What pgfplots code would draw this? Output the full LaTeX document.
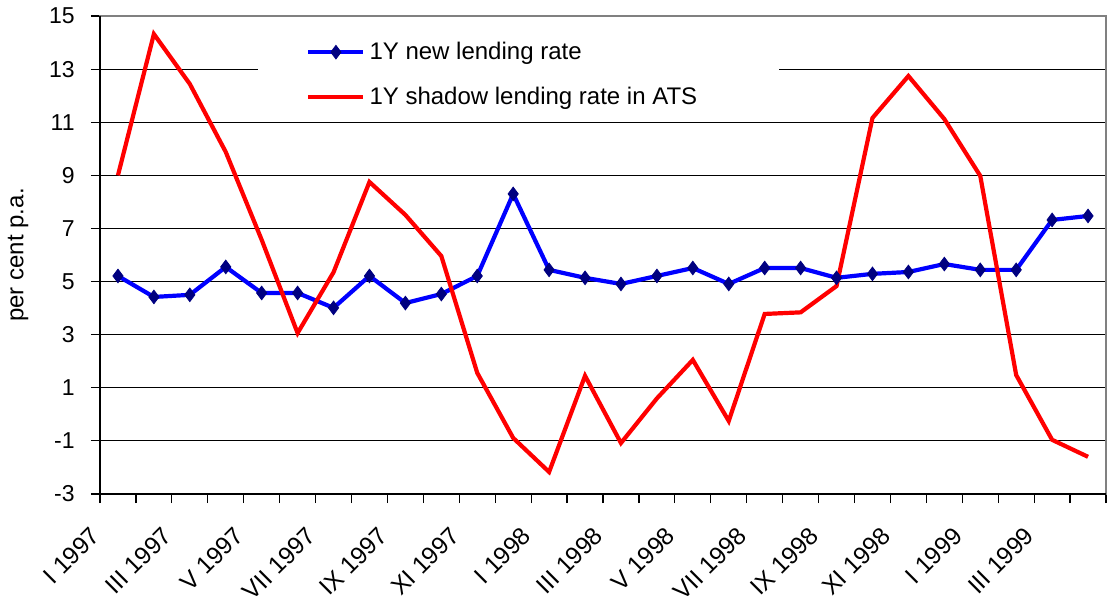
\documentclass[border=0pt]{standalone}
\usepackage{fontspec}
\setmainfont{Liberation Sans}
\usepackage{graphicx}
\usepackage{pgfplots}
\pgfplotsset{compat=1.18}
\definecolor{navy}{RGB}{0,0,128}
\definecolor{frgray}{RGB}{128,128,128}
\newcommand{\rl}[1]{\rotatebox{45}{#1}}
\begin{document}
\fontsize{12pt}{14pt}\selectfont
\begin{tikzpicture}
\begin{axis}[
  name=ax,
  scale only axis,
  width=503pt, height=239pt,
  xmin=0, xmax=28,
  ymin=-3, ymax=15,
  ytick={-3,-1,1,3,5,7,9,11,13,15},
  xtick={0,1,...,28},
  xticklabels={{\rl{I 1997}},{},{\rl{III 1997}},{},{\rl{V 1997}},{},{\rl{VII 1997}},{},{\rl{IX 1997}},{},{\rl{XI 1997}},{},{\rl{I 1998}},{},{\rl{III 1998}},{},{\rl{V 1998}},{},{\rl{VII 1998}},{},{\rl{IX 1998}},{},{\rl{XI 1998}},{},{\rl{I 1999}},{},{\rl{III 1999}},{},{}},
  /pgf/number format/assume math mode=true,
  tick label style={black},
  yticklabel style={font=\fontsize{11.5pt}{14pt}\selectfont},
  yticklabel shift=4pt,
  xticklabel style={anchor=north east, inner sep=0pt, xshift=1pt, font=\fontsize{12.2pt}{14pt}\selectfont},
  xticklabel shift=11pt,
  tick pos=left,
  tick align=outside,
  major tick length=4.5pt,
  tick style={black, line width=0.6pt},
  ymajorgrids,
  major grid style={black, line width=0.5pt},
  axis line style={frgray, line width=1pt},
  legend style={draw=none, fill=white, at={(rel axis cs:0.157,0.968)}, anchor=north west,
    inner xsep=24pt, inner ysep=3pt, row sep=8pt,
    font=\fontsize{12pt}{14pt}\selectfont},
  legend cell align=left,
  legend image code/.code={\draw[mark repeat=2,mark phase=2,#1] plot coordinates {(0pt,0pt) (13.75pt,0pt) (27.5pt,0pt)};},
]
\addplot[color=blue, line width=2.1pt, mark=diamond*, mark size=3.4pt,
  mark options={navy, fill=navy, solid, line width=0.4pt}] table {
x y
0.5 5.21
1.5 4.42
2.5 4.50
3.5 5.55
4.5 4.57
5.5 4.57
6.5 4.01
7.5 5.21
8.5 4.19
9.5 4.53
10.5 5.21
11.5 8.30
12.5 5.44
13.5 5.14
14.5 4.91
15.5 5.21
16.5 5.51
17.5 4.91
18.5 5.51
19.5 5.51
20.5 5.14
21.5 5.29
22.5 5.36
23.5 5.66
24.5 5.44
25.5 5.44
26.5 7.32
27.5 7.47
};
\addlegendentry{1Y new lending rate}
\addplot[color=red, line width=2.1pt, no markers] table {
x y
0.5 9.0
1.5 14.32
2.5 12.44
3.5 9.88
4.5 6.57
5.5 3.06
6.5 5.35
7.5 8.75
8.5 7.51
9.5 5.96
10.5 1.56
11.5 -0.89
12.5 -2.17
13.5 1.45
14.5 -1.08
15.5 0.6
16.5 2.05
17.5 -0.25
18.5 3.78
19.5 3.84
20.5 4.83
21.5 11.16
22.5 12.74
23.5 11.12
24.5 8.98
25.5 1.48
26.5 -0.96
27.5 -1.60
};
\addlegendentry{1Y shadow lending rate in ATS\hspace*{15pt}}
\end{axis}
\draw[black, line width=1pt] (ax.north west) -- (ax.south west) -- (ax.south east);
\node[rotate=90, anchor=center, font=\fontsize{12pt}{14pt}\selectfont] at ([xshift=-41pt]ax.west) {per cent p.a.};
\pgfresetboundingbox
\path ([xshift=-50pt,yshift=-52.5pt]ax.south west) rectangle ([xshift=0.5pt,yshift=8pt]ax.north east);
\end{tikzpicture}
\end{document}
